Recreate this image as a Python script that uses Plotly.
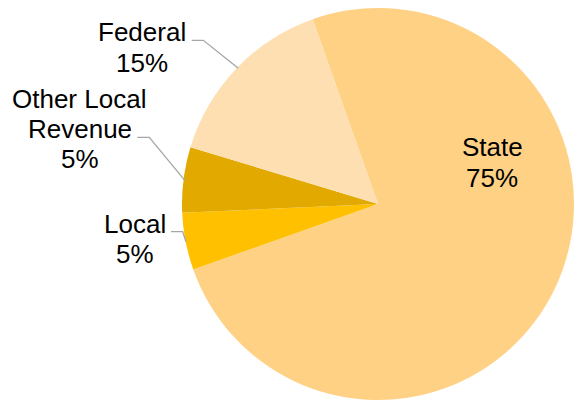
import plotly.graph_objects as go

W, H = 575, 401

# Data
categories = ["State", "Local", "Other Local Revenue", "Federal"]
values = [75.0, 4.7, 5.4, 14.9]
colors = ["#FED184", "#FFC000", "#E2A900", "#FEDFB2"]

total = sum(values)
pcts = {c: f"{round(v / total * 100):.0f}%" for c, v in zip(categories, values)}

# pie geometry (pixels)
cx, cy, r = 378, 204, 196

def px(x):
    return x / W

def py(y):
    return 1 - y / H

fig = go.Figure(go.Pie(
    labels=categories,
    values=values,
    sort=False,
    direction="clockwise",
    rotation=-19.5,
    marker=dict(colors=colors, line=dict(width=0)),
    textinfo="none",
    hoverinfo="label+percent",
    showlegend=False,
    domain=dict(x=[px(cx - r), px(cx + r)], y=[py(cy + r), py(cy - r)]),
))

font = dict(family="Liberation Sans, Arial, sans-serif", size=26, color="#000000")

# label lines: (text, x center, y center)
label_lines = [
    ("State", 492, 147), (pcts["State"], 492, 178),
    ("Federal", 142, 31.5), (pcts["Federal"], 142, 63),
    ("Other Local", 79, 99), ("Revenue", 80, 129), (pcts["Other Local Revenue"], 80, 159),
    ("Local", 135, 224), (pcts["Local"], 134.5, 254),
]
for t, x, y in label_lines:
    fig.add_annotation(x=px(x), y=py(y), xref="paper", yref="paper", text=t,
                       showarrow=False, xanchor="center", yanchor="middle", font=font)

# leader lines
leaders = [
    [(191.7, 40.3), (203.3, 40.3), (238.3, 68.3)],
    [(137.3, 137.3), (149.3, 137.3), (185, 180.7)],
    [(171, 231.7), (182.7, 231.7), (186, 241.7)],
]
for pts in leaders:
    path = "M " + " L ".join(f"{px(x)},{py(y)}" for x, y in pts)
    fig.add_shape(type="path", path=path, xref="paper", yref="paper",
                  line=dict(color="#A6A6A6", width=1.3))

fig.update_layout(
    width=W, height=H,
    margin=dict(l=0, r=0, t=0, b=0),
    paper_bgcolor="white",
    plot_bgcolor="white",
)

fig.write_html("out.html",
               config={"displayModeBar": False},
               post_script="document.body.style.margin='0px';document.body.style.overflow='hidden';")
